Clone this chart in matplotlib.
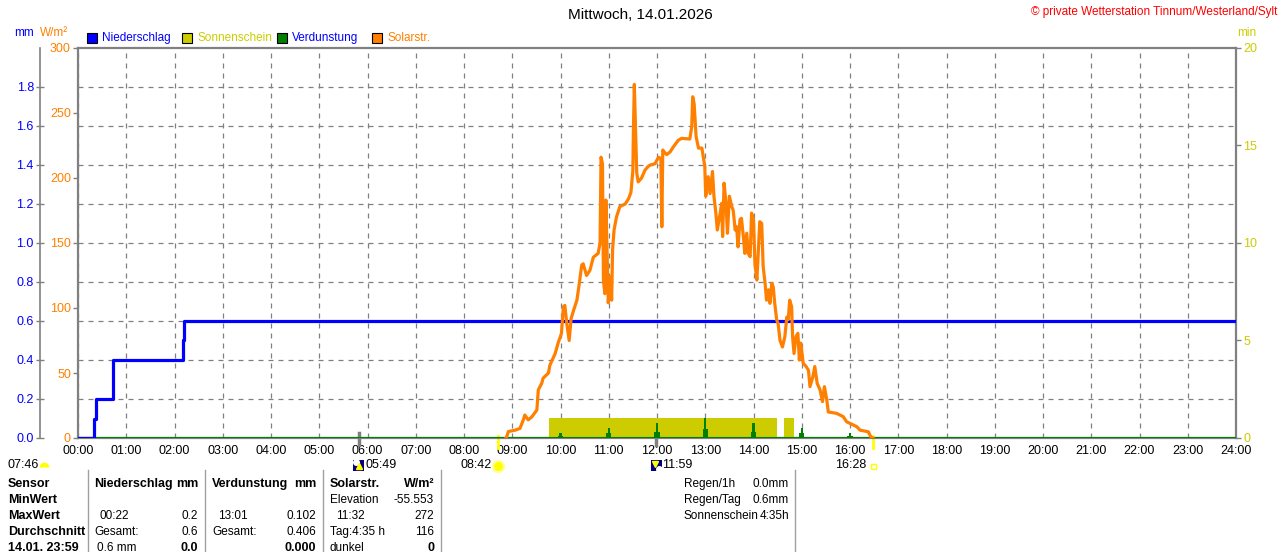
import matplotlib
matplotlib.use('Agg')
import matplotlib.pyplot as plt
from matplotlib.patches import Rectangle
from matplotlib.lines import Line2D
import matplotlib.transforms as mtransforms

plt.rcParams['font.family'] = ['Liberation Sans', 'DejaVu Sans']

# ---- data ----
# precipitation (cumulative, mm), step changes
rain_time = [0.0, 0.333, 0.367, 0.717, 2.167, 2.200, 24.0]
rain_mm = [0.0, 0.1, 0.2, 0.4, 0.5, 0.6, 0.6]

# sunshine blocks (hours from/to, minutes per minute)
sun_start = [9.77, 14.63]
sun_end = [14.48, 14.83]
sun_min = [1.05, 1.05]

# evaporation spikes (hour, peak mm, shoulder mm)
evap_time = [10, 11, 12, 13, 14, 15, 16]
evap_peak = [0.026, 0.053, 0.077, 0.102, 0.077, 0.051, 0.026]
evap_shoulder = [0.012, 0.024, 0.032, 0.046, 0.032, 0.024, 0.012]

# solar radiation W/m2
solar_time = [8.87, 8.885, 8.92, 9.06, 9.16, 9.23, 9.26, 9.33, 9.40, 9.51, 9.54,
              9.61, 9.64, 9.75, 9.78, 9.89, 9.95, 10.02, 10.06, 10.09, 10.13, 10.18,
              10.22, 10.27, 10.34, 10.39, 10.44, 10.47, 10.54, 10.61, 10.68, 10.78,
              10.82, 10.84, 10.87, 10.89, 10.92, 10.94, 10.96, 10.99, 11.03, 11.06,
              11.08, 11.11, 11.16, 11.23, 11.34, 11.41, 11.46, 11.50, 11.51, 11.53,
              11.56, 11.58, 11.61, 11.68, 11.75, 11.82, 11.86, 11.96, 12.03, 12.08,
              12.10, 12.12, 12.15, 12.20, 12.27, 12.34, 12.44, 12.51, 12.68, 12.72,
              12.74, 12.77, 12.81, 12.86, 12.93, 12.96, 12.99, 13.01, 13.06, 13.10,
              13.15, 13.18, 13.22, 13.25, 13.31, 13.34, 13.36, 13.39, 13.43, 13.46,
              13.50, 13.55, 13.58, 13.62, 13.65, 13.68, 13.72, 13.75, 13.79, 13.82,
              13.86, 13.89, 13.93, 13.96, 14.00, 14.03, 14.07, 14.10, 14.13, 14.17,
              14.20, 14.24, 14.27, 14.31, 14.34, 14.38, 14.41, 14.44, 14.48, 14.51,
              14.55, 14.60, 14.65, 14.69, 14.72, 14.75, 14.79, 14.81, 14.84, 14.88,
              14.92, 14.95, 14.98, 15.03, 15.09, 15.14, 15.17, 15.23, 15.27, 15.32,
              15.38, 15.43, 15.47, 15.52, 15.55, 15.72, 15.86, 15.93, 16.07, 16.14,
              16.21, 16.38, 16.43, 16.47]
solar_w = [0, 1, 5, 6, 7.4, 14, 17.7, 14, 16, 21.5, 37,
           42, 46, 50, 56, 65, 73, 80.5, 101, 102, 88, 75,
           92, 98, 106, 119, 133, 134, 125, 129, 139, 142,
           150, 216, 211, 121, 111, 183, 152, 104, 124, 106,
           145, 160, 170, 178, 180, 184, 189, 206, 234, 272,
           232, 204, 197, 200, 206, 209, 210, 211, 216, 215,
           162.5, 221.5, 220, 218, 220, 224, 229, 230.5, 230, 239.5,
           262.5, 257, 232, 223, 223, 216, 209, 186, 201, 188,
           205, 186, 173, 160, 173, 180.5, 155, 196, 180.5, 157.5,
           186, 178, 175, 160, 162.5, 147, 168, 169, 155, 142,
           157.5, 142, 139.5, 173, 168, 134, 121.5, 144.6, 166.4, 165,
           132, 119, 106, 114, 103.6, 119, 116, 103.6, 91, 88,
           75, 70, 78, 93, 91, 106, 101, 78, 65, 78,
           80.5, 60, 73, 57.5, 55, 52, 39.5, 47, 55, 42,
           37, 28, 39.5, 29, 20, 19, 16.4, 12.5, 10, 8.7,
           6, 4.8, 1, 0]

hour_labels = ['%02d:00' % h for h in range(25)]
w_ticks = [0, 50, 100, 150, 200, 250, 300]
mm_ticks = [0.0, 0.2, 0.4, 0.6, 0.8, 1.0, 1.2, 1.4, 1.6, 1.8]
min_ticks = [0, 5, 10, 15, 20]

W, H = 1280, 552
PT = 0.72  # points per pixel at dpi 100
BLUE = '#0000ff'
ORANGE = '#ff8000'
OLIVE = '#cccc00'
GREEN = '#008000'
GREY = '#808080'
SUN = '#ffff00'
FS = 9


def fx(x):
    return x / W


def fy(y):
    return 1 - y / H


fig = plt.figure(figsize=(W / 100, H / 100), dpi=100)
pos = [fx(78), fy(438), (1236 - 78) / W, (438 - 48) / H]

# base axes: W/m2 scale, vertical grid
ax = fig.add_axes(pos)
ax.set_xlim(0, 24)
ax.set_ylim(0, 300)
ax.set_xticks(range(25))
ax.set_xticklabels(hour_labels, fontsize=FS)
ax.tick_params(axis='x', length=0, pad=5)
ax.set_yticks(w_ticks)
ax.set_yticklabels([str(t) for t in w_ticks], fontsize=FS, color=ORANGE)
ax.tick_params(axis='y', length=5 * PT, width=1, color=GREY, pad=1.5)
ax.grid(axis='x', color=GREY, linestyle=(0, (4, 4)), linewidth=0.9)
for s in ['left', 'top', 'right', 'bottom']:
    ax.spines[s].set_color(GREY)
    ax.spines[s].set_linewidth(1.6)

# sunshine minutes (right axis)
ax_min = ax.twinx()
ax_min.set_ylim(0, 20)
ax_min.set_yticks(min_ticks)
ax_min.set_yticklabels([str(t) for t in min_ticks], fontsize=FS, color=OLIVE)
ax_min.tick_params(axis='y', length=5 * PT, width=1, color=GREY, pad=1.5)
for s in ax_min.spines.values():
    s.set_visible(False)
ax_min.bar(sun_start, sun_min, width=[e - s for s, e in zip(sun_start, sun_end)],
           align='edge', color=OLIVE, linewidth=0, zorder=2)

# precipitation / evaporation (mm axis, offset left)
ax_mm = ax.twinx()
ax_mm.set_ylim(0, 2.0)
ax_mm.yaxis.tick_left()
ax_mm.spines['left'].set_position(('outward', 38 * PT))
ax_mm.spines['left'].set_visible(True)
ax_mm.spines['left'].set_color(GREY)
ax_mm.spines['left'].set_linewidth(1.2)
for s in ['right', 'top', 'bottom']:
    ax_mm.spines[s].set_visible(False)
ax_mm.set_yticks(mm_ticks)
ax_mm.set_yticklabels(['%.1f' % t for t in mm_ticks], fontsize=FS, color=BLUE)
ax_mm.tick_params(axis='y', direction='inout', length=8 * PT, width=1, color=GREY, pad=1.5)
ax_mm.grid(axis='y', color=GREY, linestyle=(0, (4, 4)), linewidth=0.9)
ax_mm.bar(evap_time, evap_shoulder, width=0.11, color=GREEN, linewidth=0, zorder=3)
ax_mm.bar(evap_time, evap_peak, width=0.05, color=GREEN, linewidth=0, zorder=3)
ax_mm.plot([0, 24], [0, 0], color=GREEN, linewidth=1.5, zorder=3)
ax_mm.plot(rain_time, rain_mm, drawstyle='steps-post', color=BLUE, linewidth=2.3, zorder=4)

# solar radiation on top
ax_sol = ax.twinx()
ax_sol.set_ylim(0, 300)
ax_sol.set_yticks([])
for s in ax_sol.spines.values():
    s.set_visible(False)
ax_sol.plot(solar_time, solar_w, color=ORANGE, linewidth=2.3, zorder=5)

# sun / moon marks below the axis
trans = mtransforms.blended_transform_factory(ax.transData, fig.transFigure)
ax.plot([8.70, 8.70], [fy(436), fy(448)], color=SUN, lw=2, transform=trans, clip_on=False)
ax.plot([16.47, 16.47], [fy(436), fy(448)], color=SUN, lw=2, transform=trans, clip_on=False)
ax.plot([5.82, 5.82], [fy(433), fy(445)], color=GREY, lw=2.5, transform=trans, clip_on=False)
ax.plot([11.98, 11.98], [fy(433), fy(445)], color=GREY, lw=2.5, transform=trans, clip_on=False)

TY = 465
fig.text(fx(8), fy(TY), '07:46', fontsize=FS, va='center')
fig.add_artist(Line2D([fx(44)], [fy(TY + 2)], marker='o', markersize=7, fillstyle='top',
                      markerfacecolor=SUN, markerfacecoloralt='none', markeredgecolor='none',
                      transform=fig.transFigure))

fig.text(fx(365), fy(TY), '05:49', fontsize=FS, va='center')
fig.add_artist(Rectangle((fx(353), fy(TY + 6)), 11 / W, 11 / H, transform=fig.transFigure,
                         facecolor='#000080', edgecolor='none'))
fig.add_artist(Line2D([fx(356)], [fy(TY - 3)], marker='o', markersize=4, color='white',
                      transform=fig.transFigure))
fig.add_artist(Line2D([fx(359)], [fy(TY + 1)], marker='^', markersize=5, color=SUN,
                      transform=fig.transFigure))

fig.text(fx(492), fy(TY), '08:42', fontsize=FS, va='center', ha='right')
fig.add_artist(Line2D([fx(498)], [fy(TY + 1)], marker='o', markersize=8, markerfacecolor=SUN,
                      markeredgecolor='#ffff99', markeredgewidth=1.5, transform=fig.transFigure))

fig.text(fx(662), fy(TY), '11:59', fontsize=FS, va='center')
fig.add_artist(Rectangle((fx(651), fy(TY + 6)), 11 / W, 11 / H, transform=fig.transFigure,
                         facecolor='#000080', edgecolor='none'))
fig.add_artist(Line2D([fx(659)], [fy(TY + 4)], marker='o', markersize=4, color='white',
                      transform=fig.transFigure))
fig.add_artist(Line2D([fx(655)], [fy(TY - 1)], marker='v', markersize=5, color=SUN,
                      transform=fig.transFigure))

fig.text(fx(866), fy(TY), '16:28', fontsize=FS, va='center', ha='right')
fig.add_artist(Rectangle((fx(871), fy(TY + 4)), 5 / W, 5 / H, transform=fig.transFigure,
                         facecolor='none', edgecolor=SUN, linewidth=1))

# headers
fig.text(0.5, fy(15), 'Mittwoch, 14.01.2026', fontsize=11, ha='center', va='center')
fig.text(fx(1277), fy(12), '\u00a9 private Wetterstation Tinnum/Westerland/Sylt',
         fontsize=8.5, color='red', ha='right', va='center')
fig.text(fx(14), fy(33), 'mm', fontsize=8.5, color=BLUE, va='center')
fig.text(fx(40), fy(33), 'W/m\u00b2', fontsize=8.5, color=ORANGE, va='center')
fig.text(fx(1237), fy(33), 'min', fontsize=8.5, color=OLIVE, va='center')

legend = [('Niederschlag', BLUE, BLUE, 87), ('Sonnenschein', OLIVE, OLIVE, 182),
          ('Verdunstung', GREEN, BLUE, 277), ('Solarstr.', ORANGE, ORANGE, 372)]
for name, box, txt, x0 in legend:
    fig.add_artist(Rectangle((fx(x0), fy(43)), 10 / W, 10 / H, transform=fig.transFigure,
                             facecolor=box, edgecolor='black', linewidth=0.8))
    fig.text(fx(x0 + 15), fy(38), name, fontsize=8.5, color=txt, va='center')

# table below
for xs in [88, 205, 323, 441, 795]:
    fig.add_artist(Line2D([fx(xs), fx(xs)], [fy(470), 0], color='#a0a0a0', lw=1,
                          transform=fig.transFigure))

rows_y = [484, 500, 516, 532, 548]
left_col = ['Sensor', 'MinWert', 'MaxWert', 'Durchschnitt', '14.01. 23:59']
for y, t in zip(rows_y, left_col):
    fig.text(fx(8), fy(y), t, fontsize=FS, fontweight='bold', va='center')

cells = [
    # (x, row, text, ha, bold)
    (94, 0, 'Niederschlag', 'left', True), (198, 0, 'mm', 'right', True),
    (100, 2, '00:22', 'left', False), (198, 2, '0.2', 'right', False),
    (94, 3, 'Gesamt:', 'left', False), (198, 3, '0.6', 'right', False),
    (97, 4, '0.6 mm', 'left', False), (198, 4, '0.0', 'right', True),
    (212, 0, 'Verdunstung', 'left', True), (316, 0, 'mm', 'right', True),
    (218, 2, '13:01', 'left', False), (316, 2, '0.102', 'right', False),
    (212, 3, 'Gesamt:', 'left', False), (316, 3, '0.406', 'right', False),
    (316, 4, '0.000', 'right', True),
    (330, 0, 'Solarstr.', 'left', True), (434, 0, 'W/m\u00b2', 'right', True),
    (330, 1, 'Elevation', 'left', False), (434, 1, '-55.553', 'right', False),
    (336, 2, '11:32', 'left', False), (434, 2, '272', 'right', False),
    (330, 3, 'Tag:4:35 h', 'left', False), (434, 3, '116', 'right', False),
    (330, 4, 'dunkel', 'left', False), (434, 4, '0', 'right', True),
    (684, 0, 'Regen/1h', 'left', False), (789, 0, '0.0mm', 'right', False),
    (684, 1, 'Regen/Tag', 'left', False), (789, 1, '0.6mm', 'right', False),
    (684, 2, 'Sonnenschein', 'left', False), (789, 2, '4:35h', 'right', False),
]
for x, r, t, ha, b in cells:
    fig.text(fx(x), fy(rows_y[r]), t, fontsize=FS if b else 8.5, ha=ha, va='center',
             fontweight='bold' if b else 'normal')

fig.savefig('out.png', dpi=100)
